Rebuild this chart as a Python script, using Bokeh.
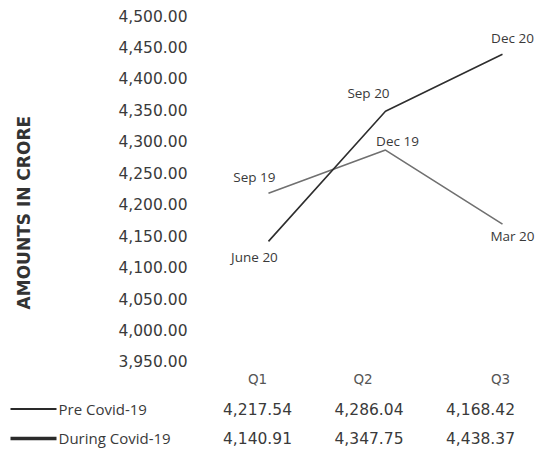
from bokeh.plotting import figure
from bokeh.layouts import column
from bokeh.models import Range1d, FixedTicker, NumeralTickFormatter, ColumnDataSource
from bokeh.core.properties import value
from bokeh.embed import file_html
from bokeh.resources import INLINE

# ---- data ----
quarters = ["Q1", "Q2", "Q3"]
pre_covid = [4217.54, 4286.04, 4168.42]
during_covid = [4140.91, 4347.75, 4438.37]
pre_months = ["Sep 19", "Dec 19", "Mar 20"]
during_months = ["June 20", "Sep 20", "Dec 20"]
series_names = ["Pre Covid-19", "During Covid-19"]
y_ticks = list(range(3950, 4501, 50))

# ---- styling ----
FONT = "DejaVu Sans"
TEXT_COLOR = "#3a3a3a"
PRE_COLOR = "#707070"
DURING_COLOR = "#2e2e2e"

# label offsets in screen pixels (x right, y down)
pre_offsets = [(-14, -16), (12, -9), (10, 12)]
during_offsets = [(-14, 16), (-17, -18), (10, -16)]
header_offsets = [0, -6, 20]

xs = [i + 1 for i in range(len(quarters))]

# ---- chart ----
p = figure(width=544, height=372,
           x_range=Range1d(0.479, 3.359), y_range=Range1d(3932.5, 4515.9),
           output_backend="svg", toolbar_location=None, x_axis_location=None,
           min_border_left=207, min_border_right=0, min_border_top=5, min_border_bottom=0)
p.frame_align = False
p.outline_line_color = None
p.grid.visible = False

ax = p.yaxis[0]
ax.ticker = FixedTicker(ticks=y_ticks)
ax.formatter = NumeralTickFormatter(format="0,0.00")
ax.axis_line_color = None
ax.major_tick_line_color = None
ax.minor_tick_line_color = None
ax.major_label_standoff = 14
ax.major_label_text_font = FONT
ax.major_label_text_font_size = "15.5px"
ax.major_label_text_color = TEXT_COLOR
# trailing no-break spaces nudge the centred title a little lower
ax.axis_label = "AMOUNTS IN CRORE" + "\u00a0" * 8
ax.axis_label_standoff = 81
ax.axis_label_text_font = FONT
ax.axis_label_text_font_size = "17px"
ax.axis_label_text_font_style = "bold"
ax.axis_label_text_color = "#333333"

p.line(xs, pre_covid, line_color=PRE_COLOR, line_width=1.6)
p.line(xs, during_covid, line_color=DURING_COLOR, line_width=1.6)

for vals, names, offs in ((pre_covid, pre_months, pre_offsets),
                          (during_covid, during_months, during_offsets)):
    src = ColumnDataSource(dict(x=xs, y=vals, t=names,
                                dx=[o[0] for o in offs], dy=[o[1] for o in offs]))
    p.text(x="x", y="y", text="t", source=src, x_offset="dx", y_offset="dy",
           text_align="center", text_baseline="middle",
           text_font=value("Open Sans"), text_font_size="13.5px", text_color=TEXT_COLOR)

# ---- data table below the chart ----
T_W = 544
COL1_PX, COL_STEP = 257, 111.5


def px_to_col(px):
    return 1 + (px - COL1_PX) / COL_STEP


t = figure(width=T_W, height=97,
           x_range=Range1d(px_to_col(0), px_to_col(T_W)), y_range=Range1d(3.051, -0.237),
           output_backend="svg", toolbar_location=None,
           x_axis_location=None, y_axis_location=None,
           min_border_left=0, min_border_right=0, min_border_top=0, min_border_bottom=0)
t.frame_align = False
t.outline_line_color = None
t.grid.visible = False

hdr = ColumnDataSource(dict(x=xs, y=[0] * len(xs), t=quarters, dx=header_offsets))
t.text(x="x", y="y", text="t", x_offset="dx", source=hdr,
       text_align="center", text_baseline="middle",
       text_font=value(FONT), text_font_size="13.5px", text_color="#555555")

rows = [pre_covid, during_covid]
for r, vals in enumerate(rows, start=1):
    t.text(x=xs, y=[r] * len(xs), text=[f"{v:,.2f}" for v in vals],
           text_align="center", text_baseline="middle",
           text_font=value(FONT), text_font_size="15.5px", text_color=TEXT_COLOR)

swatch_widths = [2, 3.5]
for r, (name, lw) in enumerate(zip(series_names, swatch_widths), start=1):
    t.segment(x0=[px_to_col(10)], y0=[r], x1=[px_to_col(56)], y1=[r],
              line_color="#2a2a2a", line_width=lw)
    t.text(x=[px_to_col(58)], y=[r], text=[name], text_align="left", text_baseline="middle",
           text_font=value("Open Sans"), text_font_size="15px", text_color=TEXT_COLOR)

layout = column(p, t, spacing=0)
open("out.html", "w").write(file_html(layout, INLINE))
